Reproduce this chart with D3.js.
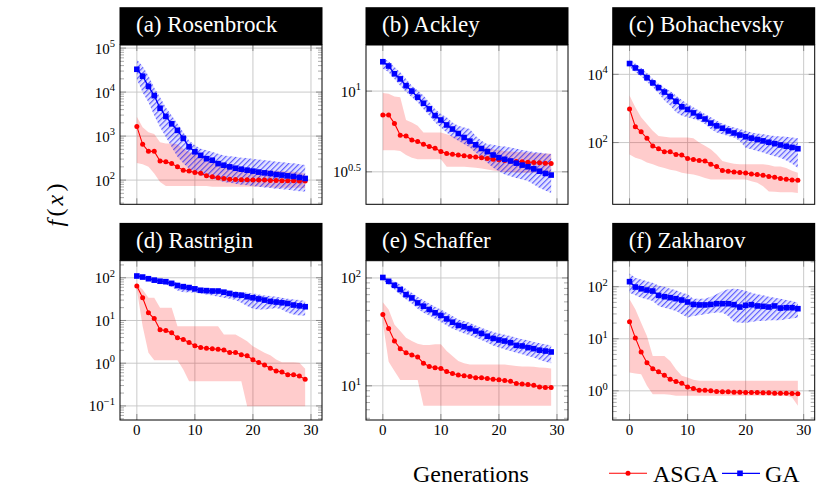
<!DOCTYPE html>
<html><head><meta charset="utf-8">
<script src="https://cdn.jsdelivr.net/npm/d3@7"></script>
</head><body style="margin:0">
<svg id="c" width="830" height="492"></svg>
<script>
// ---------- data ----------
const generations = [0,1,2,3,4,5,6,7,8,9,10,11,12,13,14,15,16,17,18,19,20,21,22,23,24,25,26,27,28,29];
const xTicks = [0, 10, 20, 30];
const seriesNames = ["ASGA", "GA"];
const panelTitles = ["(a) Rosenbrock", "(b) Ackley", "(c) Bohachevsky", "(d) Rastrigin", "(e) Schaffer", "(f) Zakharov"];

// (a) Rosenbrock
const rosenASGA     = [1660,650,450,450,273,260,237,200,168,160,149,144,125,119,113,109,105,103,102,102,100,100,100,98,98,97,97,97,95,95];
const rosenASGALow  = [245,229,200,141,91,73,73,73,73,73,73,73,73,71,71,71,71,71,71,71,71,71,71,69,67,67,67,67,67,65];
const rosenASGAHigh = [2750,1590,1230,1120,725,676,676,650,513,437,389,339,295,257,240,219,209,200,190,182,177,174,168,166,162,160,157,155,149,141];
const rosenGA       = [33000,23000,13500,8300,4300,2800,1900,1350,890,570,440,365,307,283,237,218,200,186,177,168,160,152,146,141,134,130,125,121,115,109];
const rosenGALow    = [19500,9800,5890,2950,1585,955,562,339,240,182,155,129,119,110,100,91,87,83,78,76,73,71,68,66,64,62,60,58,56,55];
const rosenGAHigh   = [55000,38900,23400,12600,7600,4470,2950,1900,1230,794,617,513,479,437,398,363,347,339,324,316,302,295,282,275,263,257,245,240,229,219];
const rosenDomain   = [28.2, 117500];
const rosenTickExp  = [2, 3, 4, 5];

// (b) Ackley
const ackleyASGA     = [7.11,7.11,6.31,5.33,5.28,4.97,4.87,4.69,4.53,4.43,4.22,4.10,4.06,4.02,3.98,3.94,3.91,3.87,3.83,3.79,3.76,3.72,3.69,3.67,3.65,3.63,3.61,3.60,3.58,3.56];
const ackleyASGALow  = [4.30,4.30,4.30,4.26,4.02,3.87,3.78,3.78,3.78,3.78,3.78,3.40,3.40,3.40,3.40,3.38,3.35,3.32,3.27,3.22,3.19,3.16,3.15,3.13,3.12,3.12,3.12,3.12,3.12,3.12];
const ackleyASGAHigh = [9.72,9.62,9.26,9.17,6.62,6.40,6.10,5.54,5.54,5.54,5.54,5.41,5.28,5.16,5.04,4.92,4.73,4.57,4.47,4.36,4.30,4.26,4.22,4.20,4.18,4.16,4.14,4.12,4.10,4.10];
const ackleyGA       = [15.2,14.3,12.8,11.9,10.8,10.0,9.17,8.41,7.76,7.05,6.62,6.17,5.82,5.46,5.16,4.90,4.65,4.41,4.22,4.02,3.87,3.78,3.69,3.58,3.48,3.40,3.30,3.19,3.09,3.02];
const ackleyGALow    = [13.8,13.1,11.9,10.8,9.86,9.17,8.53,7.76,7.05,6.40,5.96,5.54,5.16,4.92,4.69,4.47,4.16,3.87,3.60,3.35,3.19,3.04,2.97,2.90,2.83,2.77,2.64,2.51,2.42,2.34];
const ackleyGAHigh   = [15.9,15.3,14.1,13.1,11.9,10.8,10.1,9.40,8.53,7.76,7.21,6.88,6.40,6.10,5.96,5.82,5.28,4.92,4.69,4.65,4.57,4.53,4.47,4.40,4.32,4.26,4.20,4.16,4.10,4.06];
const ackleyDomain   = [1.99, 19.3];
const ackleyTickExp  = [0.5, 1];

// (c) Bohachevsky
const bohaASGA     = [966,290,207,134,79,66,54,54,45,43,34,32,30,29,23,20,15.1,14.5,13.8,13.2,12.9,12.0,11.5,11.0,10.2,9.66,8.83,8.43,8.05,7.89];
const bohaASGALow  = [45,36,32,26,23,20,18,16,15,13,12.1,11.6,10.4,9.2,8.2,8.2,8.2,8.2,8.2,8.2,8.2,7.4,6.6,5.2,3.7,3.6,3.5,3.5,3.5,3.3];
const bohaASGAHigh = [2390,1080,548,348,221,157,147,141,141,141,141,134,100,80,64,45,29,26,24,23,23,23,23,23,22,20,20,18,15,13];
const bohaGA       = [20700,15400,11700,7940,5620,4070,3020,2240,1620,1120,933,741,589,490,372,309,263,219,191,166,148,135,123,112,102,93,85,78,72,66];
const bohaGALow    = [16500,11700,8730,5930,4230,2810,1710,1210,771,614,548,490,437,348,248,198,176,157,141,112,71,64,57,51,45,40,36,30,24,18];
const bohaGAHigh   = [27100,20700,15400,10900,7450,5300,4040,3220,2390,1780,1360,1080,863,687,548,437,365,311,277,248,221,198,185,176,165,157,150,147,141,134];
const bohaDomain   = [1.55, 72400];
const bohaTickExp  = [2, 4];

// (d) Rastrigin
const rastASGA     = [63.8,33.9,15.1,11.1,6.03,5.83,5.13,3.93,3.59,3.07,2.55,2.33,2.24,2.17,2.13,2.05,1.78,1.78,1.57,1.49,1.20,1.04,0.91,0.76,0.66,0.62,0.54,0.54,0.50,0.42];
const rastASGALow  = [53.4,7.36,1.75,1.17,1.17,1.17,1.17,1.17,0.71,0.38,0.38,0.38,0.38,0.38,0.38,0.38,0.38,0.38,0.38,0.098,0.098,0.098,0.098,0.098,0.098,0.098,0.098,0.098,0.098,0.098];
const rastASGAHigh = [69.8,53.4,34,34,19.8,19.8,19.8,7.36,7.36,7.36,7.36,7.36,7.36,7.36,7.36,4.70,4.70,4.70,3.93,3.28,2.50,2.09,1.75,1.54,1.22,1.055,1.055,1.055,1.02,0.74];
const rastGA       = [110,104,95,88,83,81,74,66,62,59,55,51,50,49,49,46,43,40,39,36,34,32,30,28,27,26,25,23,22,21];
const rastGALow    = [100,95,86.6,79,73.6,69.8,61.5,50.5,46,46,44.5,43,40.7,38.5,35.9,34,32.2,30,25.9,21.7,18.8,18.1,18.1,18.8,19.5,18.1,15.1,13.8,13.1,13.1];
const rastGAHigh   = [120,113,104,98,95,91,84,76,70,66,62,57,56,55,54,52,50,48,46,44.5,43,40.7,38.5,37.2,35.9,34,32.2,31,30,28.4];
const rastDomain   = [0.0468, 251];
const rastTickExp  = [-1, 0, 1, 2];

// (e) Schaffer
const schafASGA     = [45.9,34.0,26.0,22.1,20.3,19.3,18.5,16.2,15.1,14.7,14.5,13.6,13.0,12.6,12.4,12.2,11.9,11.9,11.7,11.5,11.4,11.2,11.0,10.5,10.4,10.3,10.1,9.77,9.66,9.66];
const schafASGALow  = [38.5,16.7,13.7,11.3,11.3,11.3,11.3,6.53,6.53,6.53,6.53,6.53,6.53,6.53,6.53,6.53,6.53,6.53,6.53,6.53,6.53,6.53,6.53,6.53,6.53,6.53,6.53,6.53,6.53,6.53];
const schafASGAHigh = [59.6,51,37.1,32.2,27.9,26,24.6,23.9,23.9,24.3,24.3,21,18.9,17,16.2,15.8,15.8,15.8,15.8,15.8,15.8,15.8,15.5,15.3,15.1,15.1,15.0,14.8,14.7,14.5];
const schafGA       = [101,93,85.5,78,70,65.3,58.7,54.7,51,47.5,44.9,41.7,38.9,36.3,35.3,33.9,32.2,30.6,28.8,27.5,26.6,26.0,25.1,23.7,23.4,22.6,22.1,21.4,21.0,20.6];
const schafGALow    = [95.1,86.8,78,70.2,63.1,58,51.8,47.5,44.9,41.9,39,36.3,33.8,32.2,30.6,29.4,27.9,26.6,25.1,23.7,22.6,21.8,21,20.3,19.6,18.9,18.3,17.4,16.7,16.2];
const schafGAHigh   = [103.6,97.9,93.1,86.8,79,72.8,66.8,62.2,58,54,51,47.5,44.3,41.2,39.8,38.5,36.3,34.5,32.9,31.5,30.6,29.8,28.9,27.9,27,26.4,25.5,24.8,24.3,23.7];
const schafDomain   = [4.82, 144.5];
const schafTickExp  = [1, 2];

// (f) Zakharov
const zakASGA     = [21.2,10.4,5.55,3.47,2.66,2.33,1.98,1.66,1.51,1.40,1.19,1.11,1.03,1.03,1.0,0.97,0.96,0.96,0.94,0.94,0.93,0.93,0.93,0.92,0.92,0.90,0.90,0.90,0.89,0.875];
const zakASGALow  = [2.24,2.15,2.08,1.25,0.86,0.86,0.86,0.84,0.80,0.80,0.80,0.80,0.80,0.80,0.80,0.80,0.80,0.80,0.80,0.80,0.80,0.80,0.80,0.80,0.80,0.80,0.80,0.80,0.745,0.515];
const zakASGAHigh = [57.2,36.7,20.4,11.3,4.69,4.69,4.69,3.76,2.60,1.94,1.80,1.63,1.56,1.56,1.56,1.56,1.56,1.56,1.56,1.56,1.56,1.56,1.56,1.56,1.56,1.56,1.56,1.56,1.56,1.56];
const zakGA       = [125,98.6,91.2,86.3,82.6,68.2,64.3,61.7,58.9,55.5,50.8,45.7,44.7,44.7,45.7,47.2,47.2,47.2,45.2,40.7,43.9,45.2,42.7,42.0,40.7,42.7,38.9,39.5,39.5,37.8];
const zakGALow    = [76.8,68.2,61.5,57.2,53.1,42.6,39.5,36.7,34.2,29.5,25.5,27.4,28.2,29.5,30.8,31.8,31.8,27.4,21,20.4,20.4,21,22,22,22.6,22.6,22.6,23.7,24.4,25.5];
const zakGAHigh   = [180,149,138,128,119,106,100,91.6,85.1,76.8,71.3,58.9,58.9,58.9,64.3,71.3,82.6,88.9,91.6,88.9,82.6,76.8,71.3,68.2,64.3,61.5,58.9,55.5,53.1,49.3];
const zakDomain   = [0.275, 316];
const zakTickExp  = [0, 1, 2];

// ---------- panel table ----------
const panels = [
  {title: panelTitles[0], asga: rosenASGA, asgaLow: rosenASGALow, asgaHigh: rosenASGAHigh, ga: rosenGA, gaLow: rosenGALow, gaHigh: rosenGAHigh, domain: rosenDomain, tickExp: rosenTickExp, minor: true},
  {title: panelTitles[1], asga: ackleyASGA, asgaLow: ackleyASGALow, asgaHigh: ackleyASGAHigh, ga: ackleyGA, gaLow: ackleyGALow, gaHigh: ackleyGAHigh, domain: ackleyDomain, tickExp: ackleyTickExp, minor: false},
  {title: panelTitles[2], asga: bohaASGA, asgaLow: bohaASGALow, asgaHigh: bohaASGAHigh, ga: bohaGA, gaLow: bohaGALow, gaHigh: bohaGAHigh, domain: bohaDomain, tickExp: bohaTickExp, minor: false},
  {title: panelTitles[3], asga: rastASGA, asgaLow: rastASGALow, asgaHigh: rastASGAHigh, ga: rastGA, gaLow: rastGALow, gaHigh: rastGAHigh, domain: rastDomain, tickExp: rastTickExp, minor: true},
  {title: panelTitles[4], asga: schafASGA, asgaLow: schafASGALow, asgaHigh: schafASGAHigh, ga: schafGA, gaLow: schafGALow, gaHigh: schafGAHigh, domain: schafDomain, tickExp: schafTickExp, minor: true},
  {title: panelTitles[5], asga: zakASGA, asgaLow: zakASGALow, asgaHigh: zakASGAHigh, ga: zakGA, gaLow: zakGALow, gaHigh: zakGAHigh, domain: zakDomain, tickExp: zakTickExp, minor: true}
];

// ---------- layout ----------
const colLeft = [120, 366, 612.7];
const rowTop = [45, 260.7];
const panelW = 202;
const plotH = 159.3;
const titleH = 37.8;
const RED = "#ff0000", BLUE = "#0000ff";
const SERIF = "Liberation Serif, Times New Roman, serif";

const svg = d3.select("#c");
svg.append("rect").attr("width", 830).attr("height", 492).attr("fill", "#fff");

function txt(parent) {
  return parent.append("text").attr("font-family", SERIF);
}

const defs = svg.append("defs");
const pat = defs.append("pattern").attr("id", "hatch")
  .attr("patternUnits", "userSpaceOnUse").attr("width", 8).attr("height", 3.8)
  .attr("patternTransform", "rotate(-45)");
pat.append("rect").attr("x", 0).attr("y", 0).attr("width", 8).attr("height", 1.15)
  .attr("fill", BLUE).attr("fill-opacity", 0.6);

function expLabel(e) {
  return String(e).replace("-", "\u2212");
}

panels.forEach((p, i) => {
  const col = i % 3, row = Math.floor(i / 3);
  const pl = colLeft[col], pt = rowTop[row];
  const x = d3.scaleLinear().domain([-2.9, 31.9]).range([pl, pl + panelW]);
  const y = d3.scaleLog().domain(p.domain).range([pt + plotH, pt]);
  const g = svg.append("g");

  const clipId = "clip" + i;
  defs.append("clipPath").attr("id", clipId).append("rect")
    .attr("x", pl).attr("y", pt).attr("width", panelW).attr("height", plotH);

  const majorVals = p.tickExp.map(e => Math.pow(10, e));
  g.selectAll(".hg").data(majorVals).join("line")
    .attr("x1", pl).attr("x2", pl + panelW)
    .attr("y1", d => y(d)).attr("y2", d => y(d))
    .attr("stroke", "#c4c4c4").attr("stroke-width", 0.9);
  g.selectAll(".vg").data(xTicks).join("line")
    .attr("x1", d => x(d)).attr("x2", d => x(d))
    .attr("y1", pt).attr("y2", pt + plotH)
    .attr("stroke", "#c4c4c4").attr("stroke-width", 0.9);

  if (p.minor) {
    const lo = Math.floor(Math.log10(p.domain[0])), hi = Math.ceil(Math.log10(p.domain[1]));
    const minors = [];
    for (let n = lo; n <= hi; n++) for (let k = 2; k <= 9; k++) {
      const v = k * Math.pow(10, n);
      if (v > p.domain[0] && v < p.domain[1]) minors.push(v);
    }
    [[pl, 4], [pl + panelW, -4]].forEach(([xx, len]) => {
      g.selectAll(null).data(minors).join("line")
        .attr("x1", xx).attr("x2", xx + len)
        .attr("y1", d => y(d)).attr("y2", d => y(d))
        .attr("stroke", "#8a8a8a").attr("stroke-width", 0.7);
    });
  }
  [[pl, 6], [pl + panelW, -6]].forEach(([xx, len]) => {
    g.selectAll(null).data(majorVals).join("line")
      .attr("x1", xx).attr("x2", xx + len)
      .attr("y1", d => y(d)).attr("y2", d => y(d))
      .attr("stroke", "#777").attr("stroke-width", 0.8);
  });
  [[pt + plotH, -6], [pt, 6]].forEach(([yy, len]) => {
    g.selectAll(null).data(xTicks).join("line")
      .attr("x1", d => x(d)).attr("x2", d => x(d))
      .attr("y1", yy).attr("y2", yy + len)
      .attr("stroke", "#777").attr("stroke-width", 0.8);
  });

  const plot = g.append("g").attr("clip-path", `url(#${clipId})`);

  const band = (lowArr, highArr) => d3.area()
    .x((d, j) => x(generations[j]))
    .y0((d, j) => y(lowArr[j]))
    .y1((d, j) => y(highArr[j]));
  plot.append("path").datum(generations)
    .attr("d", band(p.asgaLow, p.asgaHigh))
    .attr("fill", RED).attr("fill-opacity", 0.2);
  plot.append("path").datum(generations)
    .attr("d", band(p.gaLow, p.gaHigh))
    .attr("fill", BLUE).attr("fill-opacity", 0.11);
  plot.append("path").datum(generations)
    .attr("d", band(p.gaLow, p.gaHigh))
    .attr("fill", "url(#hatch)");

  const line = arr => d3.line().x((d, j) => x(generations[j])).y((d, j) => y(arr[j]));
  plot.append("path").datum(generations).attr("d", line(p.asga))
    .attr("fill", "none").attr("stroke", RED).attr("stroke-width", 1.1);
  plot.selectAll(null).data(p.asga).join("circle")
    .attr("cx", (d, j) => x(generations[j])).attr("cy", d => y(d)).attr("r", 2.5)
    .attr("fill", RED);

  plot.append("path").datum(generations).attr("d", line(p.ga))
    .attr("fill", "none").attr("stroke", BLUE).attr("stroke-width", 1.3);
  plot.selectAll(null).data(p.ga).join("rect")
    .attr("x", (d, j) => x(generations[j]) - 2.8).attr("y", d => y(d) - 2.8)
    .attr("width", 5.6).attr("height", 5.6).attr("fill", BLUE);

  g.append("rect").attr("x", pl).attr("y", pt).attr("width", panelW).attr("height", plotH)
    .attr("fill", "none").attr("stroke", "#000").attr("stroke-width", 1);

  g.append("rect").attr("x", pl - 0.5).attr("y", pt - titleH).attr("width", panelW + 1).attr("height", titleH)
    .attr("fill", "#000");
  txt(g).attr("x", pl + 16).attr("y", pt - 12.8)
    .attr("fill", "#fff").attr("font-size", 23).text(p.title);

  p.tickExp.forEach(e => {
    const t = txt(g).attr("x", pl - 5).attr("y", y(Math.pow(10, e)) + 5.5)
      .attr("text-anchor", "end").attr("font-size", 15).attr("fill", "#000");
    t.append("tspan").text("10");
    t.append("tspan").attr("font-size", 10.5).attr("dy", -6.5).text(expLabel(e));
  });

  if (row === 1) {
    xTicks.forEach(d => {
      txt(g).attr("x", x(d)).attr("y", 435)
        .attr("text-anchor", "middle").attr("font-size", 15).text(d);
    });
  }
});

txt(svg).attr("x", 413).attr("y", 481.5).attr("font-size", 24).text("Generations");
const fx = txt(svg).attr("transform", "translate(63,205) rotate(-90)")
  .attr("text-anchor", "middle").attr("font-size", 24)
  .attr("textLength", 43).attr("lengthAdjust", "spacing");
fx.append("tspan").attr("font-style", "italic").text("f");
fx.append("tspan").text("(");
fx.append("tspan").attr("font-style", "italic").text("x");
fx.append("tspan").text(")");

const legend = svg.append("g");
const legY = 473.3;
legend.append("line").attr("x1", 609).attr("x2", 647).attr("y1", legY).attr("y2", legY)
  .attr("stroke", RED).attr("stroke-width", 1.1);
legend.append("circle").attr("cx", 628).attr("cy", legY).attr("r", 2.5).attr("fill", RED);
txt(legend).attr("x", 653).attr("y", 481.5).attr("font-size", 24).text(seriesNames[0]);
legend.append("line").attr("x1", 722).attr("x2", 760).attr("y1", legY).attr("y2", legY)
  .attr("stroke", BLUE).attr("stroke-width", 1.3);
legend.append("rect").attr("x", 740 - 2.8).attr("y", legY - 2.8).attr("width", 5.6).attr("height", 5.6).attr("fill", BLUE);
txt(legend).attr("x", 765).attr("y", 481.5).attr("font-size", 24).text(seriesNames[1]);
</script>
</body></html>
